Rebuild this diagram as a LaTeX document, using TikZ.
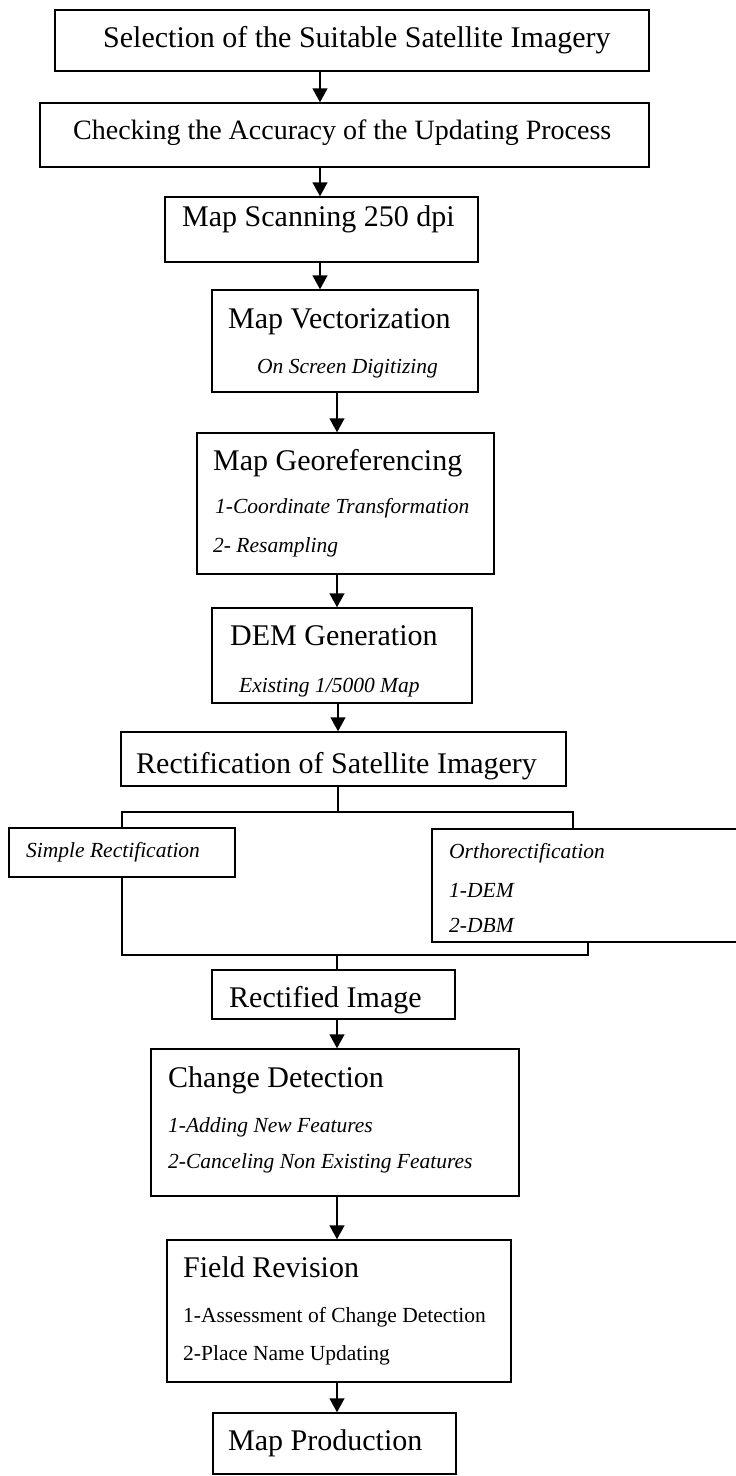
\documentclass[tikz,border=0pt]{standalone}
\usepackage{fontspec}
\setmainfont{Liberation Serif}
\usetikzlibrary{arrows.meta}
\tikzset{
  box/.style={draw, line width=1.5pt, rectangle, inner sep=0pt},
  big/.style={font=\fontsize{30}{36}\selectfont, anchor=base west, inner sep=0pt},
  bigc/.style={font=\fontsize{28}{34}\selectfont, anchor=base west, inner sep=0pt},
  smit/.style={font=\fontsize{21.5}{26}\selectfont\itshape, anchor=base west, inner sep=0pt},
  smup/.style={font=\fontsize{21.5}{26}\selectfont, anchor=base west, inner sep=0pt},
  ln/.style={line width=1.5pt},
  arr/.style={line width=1.5pt, -{Triangle[length=14pt,width=15pt]}}
}
\begin{document}
\begin{tikzpicture}[x=1pt,y=-1pt]
\useasboundingbox[fill=white] (0,0) rectangle (736,1476);
% boxes
\node[box, minimum width=594pt, minimum height=61pt] (sel) at (352,40.5) {};
\node[box, minimum width=609pt, minimum height=64pt] (chk) at (344.5,135) {};
\node[box, minimum width=313pt, minimum height=65pt] (scan) at (321.5,229.5) {};
\node[box, minimum width=266pt, minimum height=102pt] (vec) at (345,341) {};
\node[box, minimum width=297pt, minimum height=141pt] (geo) at (345.5,503.5) {};
\node[box, minimum width=260pt, minimum height=95pt] (dem) at (342,655.5) {};
\node[box, minimum width=445pt, minimum height=54pt] (rect) at (343.5,759) {};
\node[box, minimum width=226pt, minimum height=49pt] (simp) at (122,852.5) {};
\node[box, minimum width=308pt, minimum height=113pt] (ortho) at (586,885.5) {};
\node[box, minimum width=243pt, minimum height=49pt] (rimg) at (333.5,994.5) {};
\node[box, minimum width=368pt, minimum height=147pt] (chg) at (335,1122.5) {};
\node[box, minimum width=344pt, minimum height=142pt] (fld) at (339,1311) {};
\node[box, minimum width=243pt, minimum height=61pt] (prod) at (334.5,1443.5) {};
% texts
\node[big] (t1) at (103,47) {Selection of the Suitable Satellite Imagery};
\node[bigc] (t2) at (73,139) {Checking the Accuracy of the Updating Process};
\node[big] (t3) at (182,226) {Map Scanning 250 dpi};
\node[big] (t4) at (228,328) {Map Vectorization};
\node[smit] (t4a) at (257,373) {On Screen Digitizing};
\node[big] (t5) at (213,470) {Map Georeferencing};
\node[smit] (t5a) at (215,513) {1-Coordinate Transformation};
\node[smit] (t5b) at (213,552) {2- Resampling};
\node[big] (t6) at (230,645) {DEM Generation};
\node[smit] (t6a) at (239,692) {Existing 1/5000 Map};
\node[big] (t7) at (136,773) {Rectification of Satellite Imagery};
\node[smit] (t8) at (26,857) {Simple Rectification};
\node[smit] (t9) at (449,858) {Orthorectification};
\node[smit] (t9a) at (449,897) {1-DEM};
\node[smit] (t9b) at (449,932) {2-DBM};
\node[big] (t10) at (229,1007) {Rectified Image};
\node[big] (t11) at (168,1087) {Change Detection};
\node[smit] (t11a) at (168,1132) {1-Adding New Features};
\node[smit] (t11b) at (168,1168) {2-Canceling Non Existing Features};
\node[big] (t12) at (183,1277) {Field Revision};
\node[smup] (t12a) at (183,1322) {1-Assessment of Change Detection};
\node[smup] (t12b) at (183,1360) {2-Place Name Updating};
\node[big] (t13) at (228,1450) {Map Production};
% helper coordinates
\coordinate (xa) at (320,0);
\coordinate (xb) at (337,0);
\coordinate (spl) at (338,812);
\coordinate (sr) at (573,812);
\coordinate (mr) at (588,955);
\coordinate (mrg) at (337,955);
% connectors
\draw[arr] (sel.south -| xa) -- (chk.north -| xa);
\draw[arr] (chk.south -| xa) -- (scan.north -| xa);
\draw[arr] (scan.south -| xa) -- (vec.north -| xa);
\draw[arr] (vec.south -| xb) -- (geo.north -| xb);
\draw[arr] (geo.south -| xb) -- (dem.north -| xb);
\draw[arr] (dem.south -| spl) -- (rect.north -| spl);
\draw[ln] (rect.south -| spl) -- (spl);
\draw[ln] (simp.north) |- (sr) -- (ortho.north -| sr);
\draw[ln] (simp.south) |- (mr) -- (ortho.south -| mr);
\draw[ln] (mrg) -- (rimg.north -| mrg);
\draw[arr] (rimg.south -| xb) -- (chg.north -| xb);
\draw[arr] (chg.south -| xb) -- (fld.north -| xb);
\draw[arr] (fld.south -| xb) -- (prod.north -| xb);
\end{tikzpicture}
\end{document}
